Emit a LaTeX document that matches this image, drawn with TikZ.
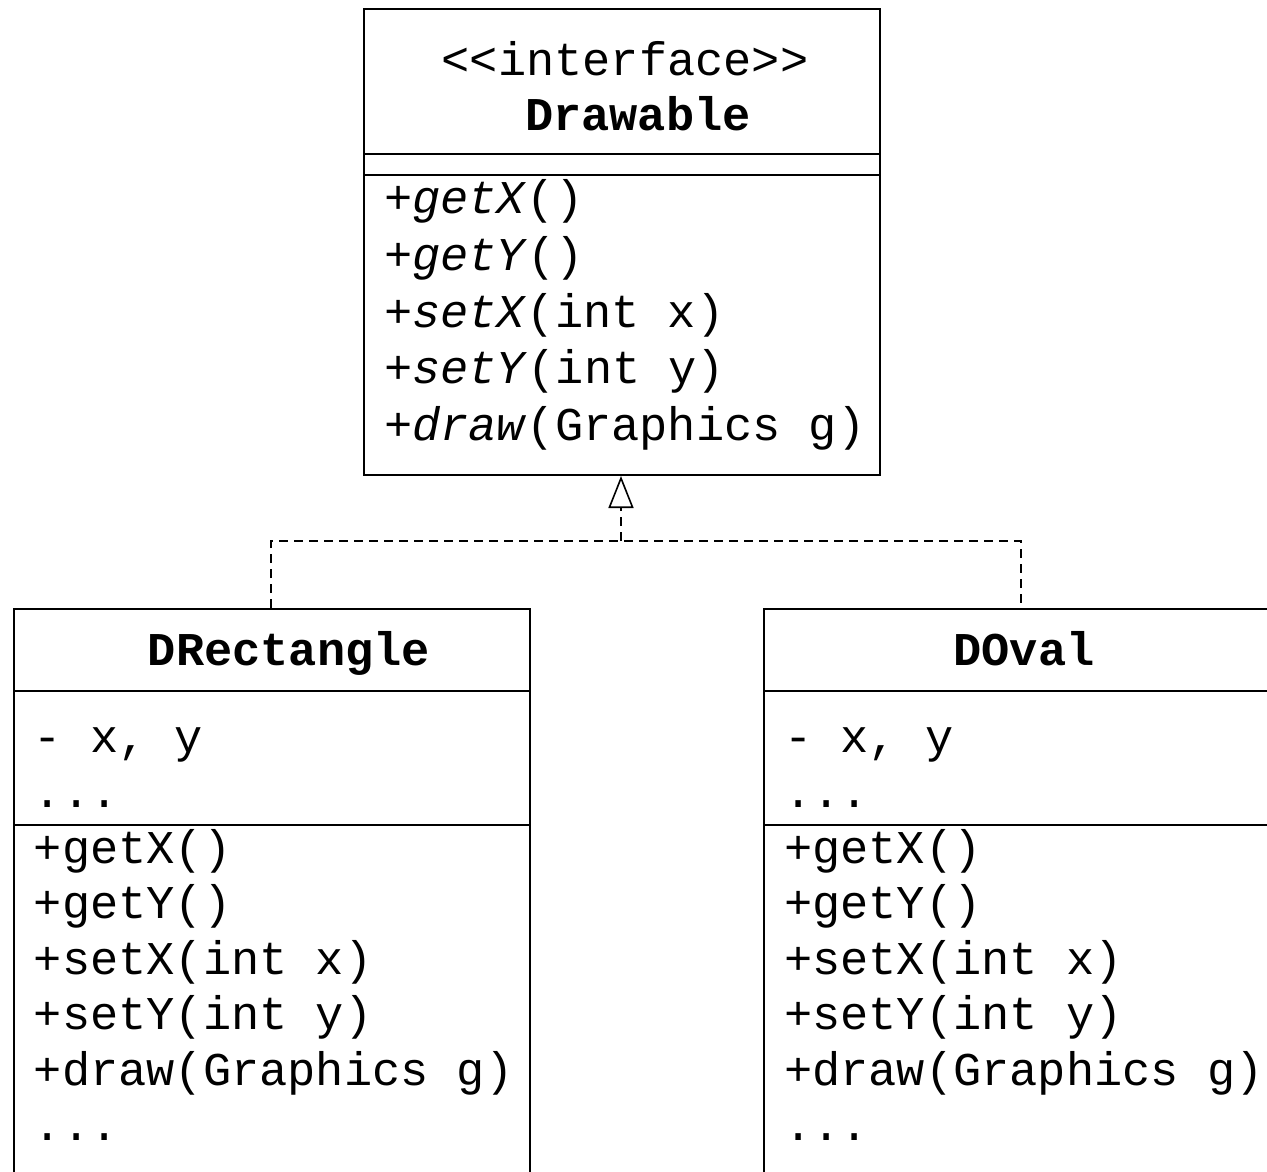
\documentclass[tikz,border=0pt]{standalone}
\usepackage{fontspec}
\setmonofont{Liberation Mono}
\usetikzlibrary{arrows.meta}
\begin{document}
\begin{tikzpicture}[x=1pt,y=-1pt,
  line width=2pt,
  classbox/.style={draw, line width=2pt, anchor=north west, inner sep=0pt},
  txt/.style={anchor=base west, inner sep=0pt, font=\ttfamily\fontsize{47}{56}\selectfont},
  title/.style={anchor=base, inner sep=0pt, font=\ttfamily\fontsize{47}{56}\selectfont},
  realize/.style={dash pattern=on 9pt off 6pt, line width=1.6pt},
  hollow/.style={-{Triangle[open, length=32pt, width=25pt, line width=1.6pt]}}]
\clip (0,0) rectangle (1267,1171);
\useasboundingbox (0,0) rectangle (1267,1171);

% interface Drawable
\node[classbox, minimum width=516pt, minimum height=466pt] (iface) at (363,8) {};
\draw (363,154) -- (879,154);
\draw (363,175) -- (879,175);
\node[title] (ifst) at (625,75) {<<interface>>};
\node[title] (ifname) at (638,130) {\bfseries Drawable};
\node[txt] (im1) at (383,213) {+\textit{getX}()};
\node[txt] (im2) at (383,270) {+\textit{getY}()};
\node[txt] (im3) at (383,327) {+\textit{setX}(int x)};
\node[txt] (im4) at (383,383) {+\textit{setY}(int y)};
\node[txt] (im5) at (383,440) {+\textit{draw}(Graphics g)};

% class DRectangle
\node[classbox, minimum width=516pt, minimum height=640pt] (rect) at (13,608) {};
\draw (13,691) -- (529,691);
\draw (13,825) -- (529,825);
\node[title] (rname) at (289,665) {\bfseries DRectangle};
\node[txt] (ra1) at (33,752) {- x, y};
\node[txt] (ra2) at (33,807) {...};
\node[txt] (rm1) at (33,863) {+getX()};
\node[txt] (rm2) at (33,918.5) {+getY()};
\node[txt] (rm3) at (33,974) {+setX(int x)};
\node[txt] (rm4) at (33,1029.5) {+setY(int y)};
\node[txt] (rm5) at (33,1085) {+draw(Graphics g)};
\node[txt] (rm6) at (33,1140.5) {...};

% class DOval
\node[classbox, minimum width=516pt, minimum height=640pt] (oval) at (763,608) {};
\draw (763,691) -- (1279,691);
\draw (763,825) -- (1279,825);
\node[title] (oname) at (1024,665) {\bfseries DOval};
\node[txt] (oa1) at (783,752) {- x, y};
\node[txt] (oa2) at (783,807) {...};
\node[txt] (om1) at (783,863) {+getX()};
\node[txt] (om2) at (783,918.5) {+getY()};
\node[txt] (om3) at (783,974) {+setX(int x)};
\node[txt] (om4) at (783,1029.5) {+setY(int y)};
\node[txt] (om5) at (783,1085) {+draw(Graphics g)};
\node[txt] (om6) at (783,1140.5) {...};

% realization connectors
\coordinate (join) at (621,541);
\draw[realize] (rect.north west -| 271,0) |- (join) -| (oval.north west -| 1021,0);
\draw[realize, hollow] (join) -- (join |- iface.south);
\end{tikzpicture}
\end{document}
